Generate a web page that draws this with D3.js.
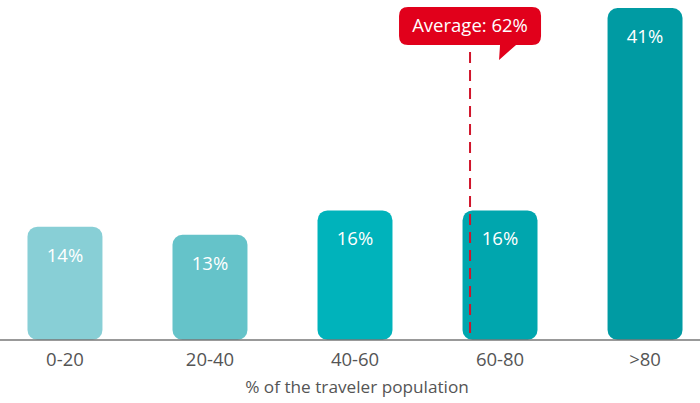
<!DOCTYPE html>
<html>
<head>
<meta charset="utf-8">
<script src="https://cdn.jsdelivr.net/npm/d3@7"></script>
<style>
  html, body { margin: 0; padding: 0; background: #fff; }
  svg { display: block; font-family: "Open Sans", "Noto Sans", sans-serif; }
</style>
</head>
<body>
<svg id="chart" width="700" height="403"></svg>
<script>
// Share of travelers by bucket of the traveler population
const categories = ["0-20", "20-40", "40-60", "60-80", ">80"];
const shares = [14, 13, 16, 16, 41];
const barColors = ["#88cfd6", "#65c3c9", "#00b3bb", "#00a6ae", "#009ba3"];
const averageValue = 62;
const axisTitle = "% of the traveler population";

const width = 700, height = 403;
const baseline = 340;

const svg = d3.select("#chart");

const x = d3.scaleBand()
  .domain(categories)
  .range([5, 705])
  .paddingInner(0.483)
  .paddingOuter(0.155);

const y = d3.scaleLinear()
  .domain([0, 41])
  .range([baseline, 8]);

// percentage position along the x axis, for the average marker
const pctX = d3.scaleLinear()
  .domain([0, 100])
  .range([x(categories[0]) - 7, x(categories[0]) - 7 + 5 * x.step()]);

const data = categories.map((c, i) => ({ cat: c, value: shares[i], color: barColors[i] }));

// bars
svg.append("g")
  .selectAll("rect")
  .data(data)
  .join("rect")
  .attr("x", d => x(d.cat))
  .attr("y", d => y(d.value))
  .attr("width", x.bandwidth())
  .attr("height", d => baseline - y(d.value))
  .attr("rx", 10)
  .attr("ry", 10)
  .attr("fill", d => d.color);

// value labels
svg.append("g")
  .selectAll("text")
  .data(data)
  .join("text")
  .attr("x", d => x(d.cat) + x.bandwidth() / 2)
  .attr("y", d => y(d.value) + 35)
  .attr("text-anchor", "middle")
  .attr("fill", "#fff")
  .attr("font-size", 18.5)
  .text(d => d.value + "%");

// x axis
const xAxis = d3.axisBottom(x).tickSize(0).tickPadding(13);
const gx = svg.append("g")
  .attr("transform", `translate(0,${baseline})`)
  .call(xAxis);
gx.select(".domain").remove();
gx.selectAll("text")
  .attr("fill", "#555")
  .attr("font-size", 18.5)
  .attr("font-family", "Open Sans, Noto Sans, sans-serif");

svg.append("line")
  .attr("x1", 0).attr("x2", width)
  .attr("y1", baseline).attr("y2", baseline)
  .attr("stroke", "#777")
  .attr("stroke-width", 1.5);

svg.append("text")
  .attr("x", 357)
  .attr("y", 393)
  .attr("text-anchor", "middle")
  .attr("fill", "#555")
  .attr("font-size", 17.2)
  .text(axisTitle);

// average marker
const ax = pctX(averageValue);
svg.append("line")
  .attr("x1", ax).attr("x2", ax)
  .attr("y1", 52).attr("y2", baseline)
  .attr("stroke", "#d0152b")
  .attr("stroke-width", 2)
  .attr("stroke-dasharray", "11,7");

const boxL = ax - 71, boxR = ax + 71, boxT = 7, boxB = 45, r = 9;
const tailL = ax + 30, tailR = ax + 46, tipX = ax + 29, tipY = 60;
const callout = d3.path();
callout.moveTo(boxL + r, boxT);
callout.lineTo(boxR - r, boxT);
callout.quadraticCurveTo(boxR, boxT, boxR, boxT + r);
callout.lineTo(boxR, boxB - r);
callout.quadraticCurveTo(boxR, boxB, boxR - r, boxB);
callout.lineTo(tailR, boxB);
callout.lineTo(tipX, tipY);
callout.lineTo(tailL, boxB);
callout.lineTo(boxL + r, boxB);
callout.quadraticCurveTo(boxL, boxB, boxL, boxB - r);
callout.lineTo(boxL, boxT + r);
callout.quadraticCurveTo(boxL, boxT, boxL + r, boxT);
callout.closePath();

svg.append("path")
  .attr("d", callout.toString())
  .attr("fill", "#e1001b");

svg.append("text")
  .attr("x", ax)
  .attr("y", 32)
  .attr("text-anchor", "middle")
  .attr("fill", "#fff")
  .attr("font-size", 18.5)
  .text("Average: " + averageValue + "%");
</script>
</body>
</html>
